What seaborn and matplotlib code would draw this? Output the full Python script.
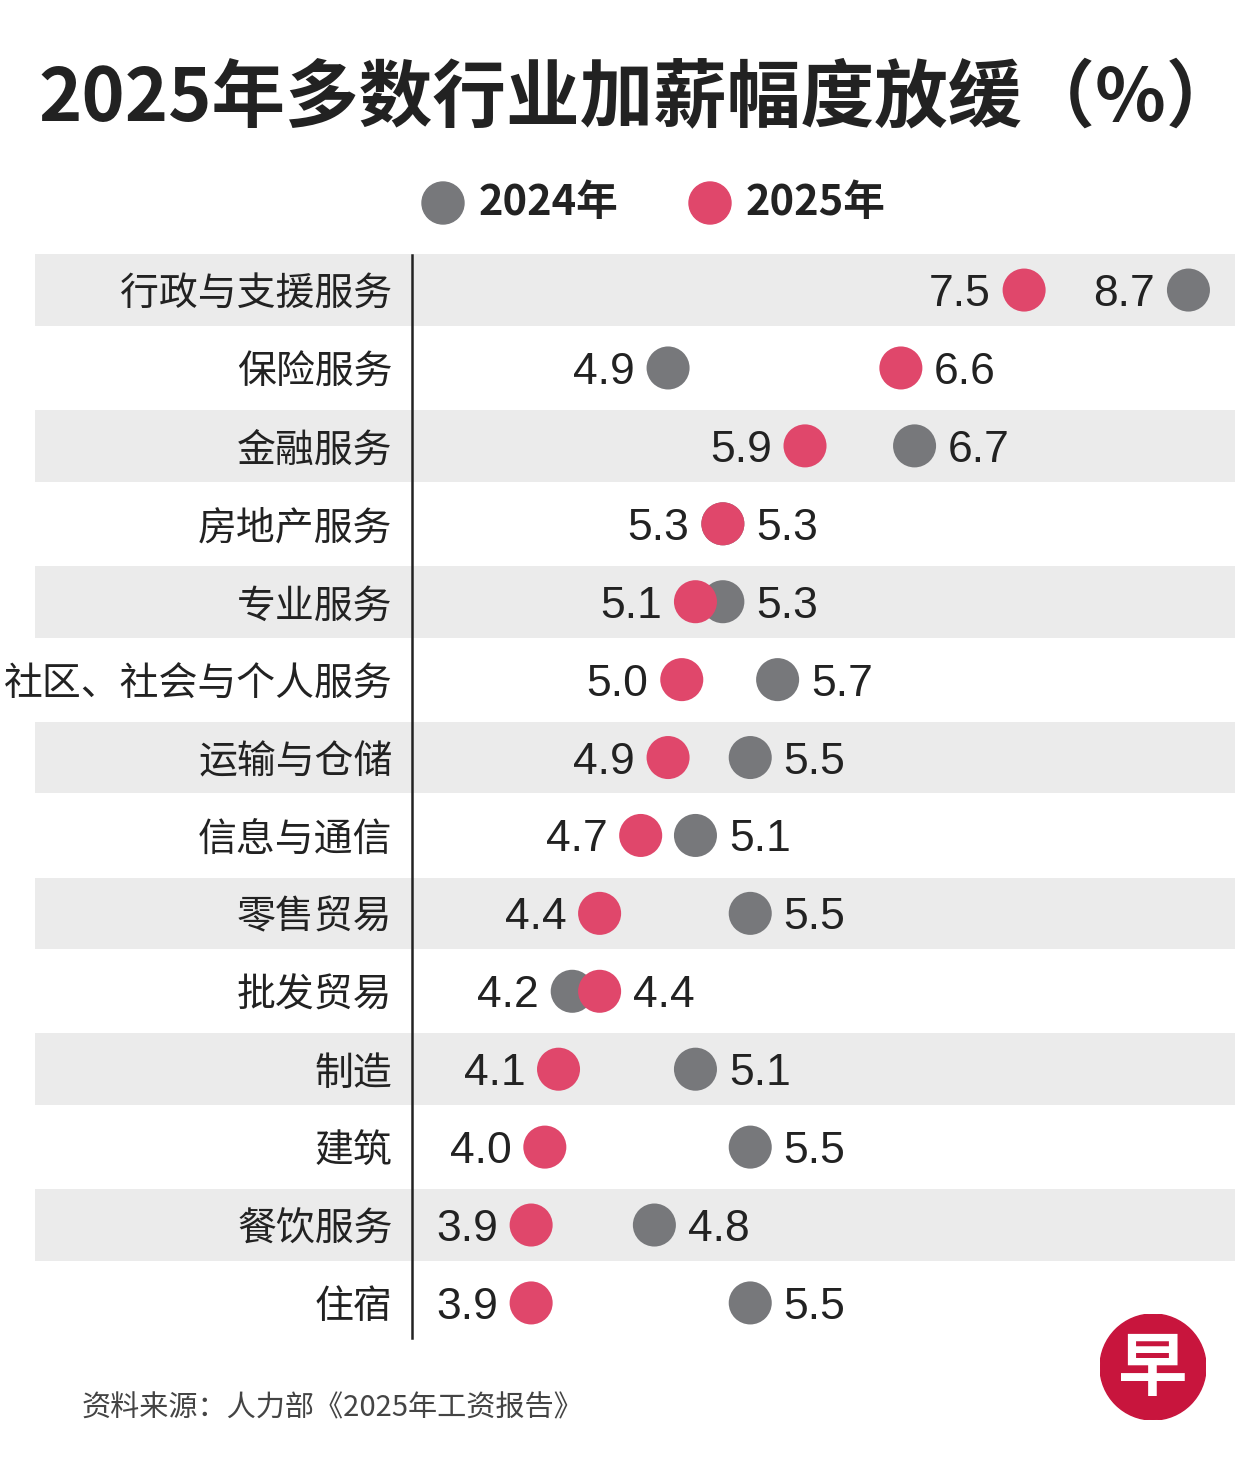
import numpy as np
import pandas as pd
import matplotlib
matplotlib.use("Agg")
import matplotlib.pyplot as plt
import seaborn as sns
from matplotlib.patches import Circle, Ellipse

# data
industries = ["行政与支援服务", "保险服务", "金融服务", "房地产服务", "专业服务",
              "社区、社会与个人服务", "运输与仓储", "信息与通信", "零售贸易", "批发贸易",
              "制造", "建筑", "餐饮服务", "住宿"]
raise_2024 = [8.7, 4.9, 6.7, 5.3, 5.3, 5.7, 5.5, 5.1, 5.5, 4.2, 5.1, 5.5, 4.8, 5.5]
raise_2025 = [7.5, 6.6, 5.9, 5.3, 5.1, 5.0, 4.9, 4.7, 4.4, 4.4, 4.1, 4.0, 3.9, 3.9]
years = ["2024年", "2025年"]

GREY = "#77787b"
PINK = "#e0476b"
BAND = "#ebebeb"
INK = "#222222"

sns.set_theme(style="white")
plt.rcParams['font.family'] = ['Noto Sans CJK SC', 'DejaVu Sans']

rows = []
for i, name in enumerate(industries):
    rows.append({"industry": name, "pos": i, "value": raise_2024[i], "year": years[0]})
for i, name in enumerate(industries):
    rows.append({"industry": name, "pos": i, "value": raise_2025[i], "year": years[1]})
df = pd.DataFrame(rows)

W, H = 1251, 1469
fig = plt.figure(figsize=(W / 100, H / 100), dpi=100)
ax = fig.add_axes([412 / W, 1 - 1338 / H, (1235 - 412) / W, (1338 - 255) / H])

# alternating grey bands, reaching left under the labels
for i in range(0, len(industries), 2):
    ax.axhspan(i - 0.46, i + 0.46, xmin=-(412 - 35) / (1235 - 412), xmax=1,
               color=BAND, zorder=0, clip_on=False, lw=0)

sns.scatterplot(data=df, x="value", y="pos", hue="year", palette=[GREY, PINK],
                s=960, linewidth=0, ax=ax, legend=False, zorder=3)

ax.set_xlim(3.03, 9.04)
ax.set_ylim(len(industries) - 0.55, -0.45)

# value labels: lower value on the left, higher on the right (unless no room)
for i in range(len(industries)):
    a, b = raise_2024[i], raise_2025[i]
    lo, hi = min(a, b), max(a, b)
    ax.annotate(f"{lo:.1f}", (lo, i), xytext=(-24, 0), textcoords="offset points",
                ha="right", va="center_baseline", fontsize=32, color=INK,
                family="Liberation Sans", zorder=4)
    side = 24 if hi < 8.5 else -24
    ax.annotate(f"{hi:.1f}", (hi, i), xytext=(side, 0), textcoords="offset points",
                ha="left" if side > 0 else "right", va="center_baseline",
                fontsize=32, color=INK, family="Liberation Sans", zorder=4)

ax.set_yticks(range(len(industries)))
ax.set_yticklabels(industries, fontsize=28, color=INK)
ax.tick_params(axis="y", length=0, pad=14)
ax.set_xticks([])
ax.set_xlabel("")
ax.set_ylabel("")
for s in ["top", "right", "bottom"]:
    ax.spines[s].set_visible(False)
ax.spines["left"].set_color(INK)
ax.spines["left"].set_linewidth(1.8)
ax.set_facecolor("none")

# title
fig.text(38 / W, 1 - 100 / H, "2025年多数行业加薪幅度放缓（%）", fontsize=53,
         fontweight="bold", color=INK, ha="left", va="center")

# legend
for x0, label, col in [(443, years[0], GREY), (710, years[1], PINK)]:
    fig.add_artist(Ellipse((x0 / W, 1 - 203 / H), 42 / W, 42 / H, color=col,
                           transform=fig.transFigure))
    fig.text((x0 + 36) / W, 1 - 203 / H, label, fontsize=30, fontweight="bold",
             color=INK, ha="left", va="center")

# source
fig.text(82 / W, 1 - 1408 / H, "资料来源：人力部《2025年工资报告》", fontsize=21,
         color="#444444", ha="left", va="center")

# logo
logo = fig.add_axes([1100 / W, 1 - 1420 / H, 106 / W, 106 / H])
logo.set_xlim(-1, 1)
logo.set_ylim(-1, 1)
logo.set_aspect("equal")
logo.axis("off")
logo.add_patch(Circle((0, 0), 1, color="#c8153d"))
logo.text(0, -0.05, "早", fontsize=50, fontweight="bold", color="white",
          ha="center", va="center")

fig.savefig("out.png", dpi=100)
